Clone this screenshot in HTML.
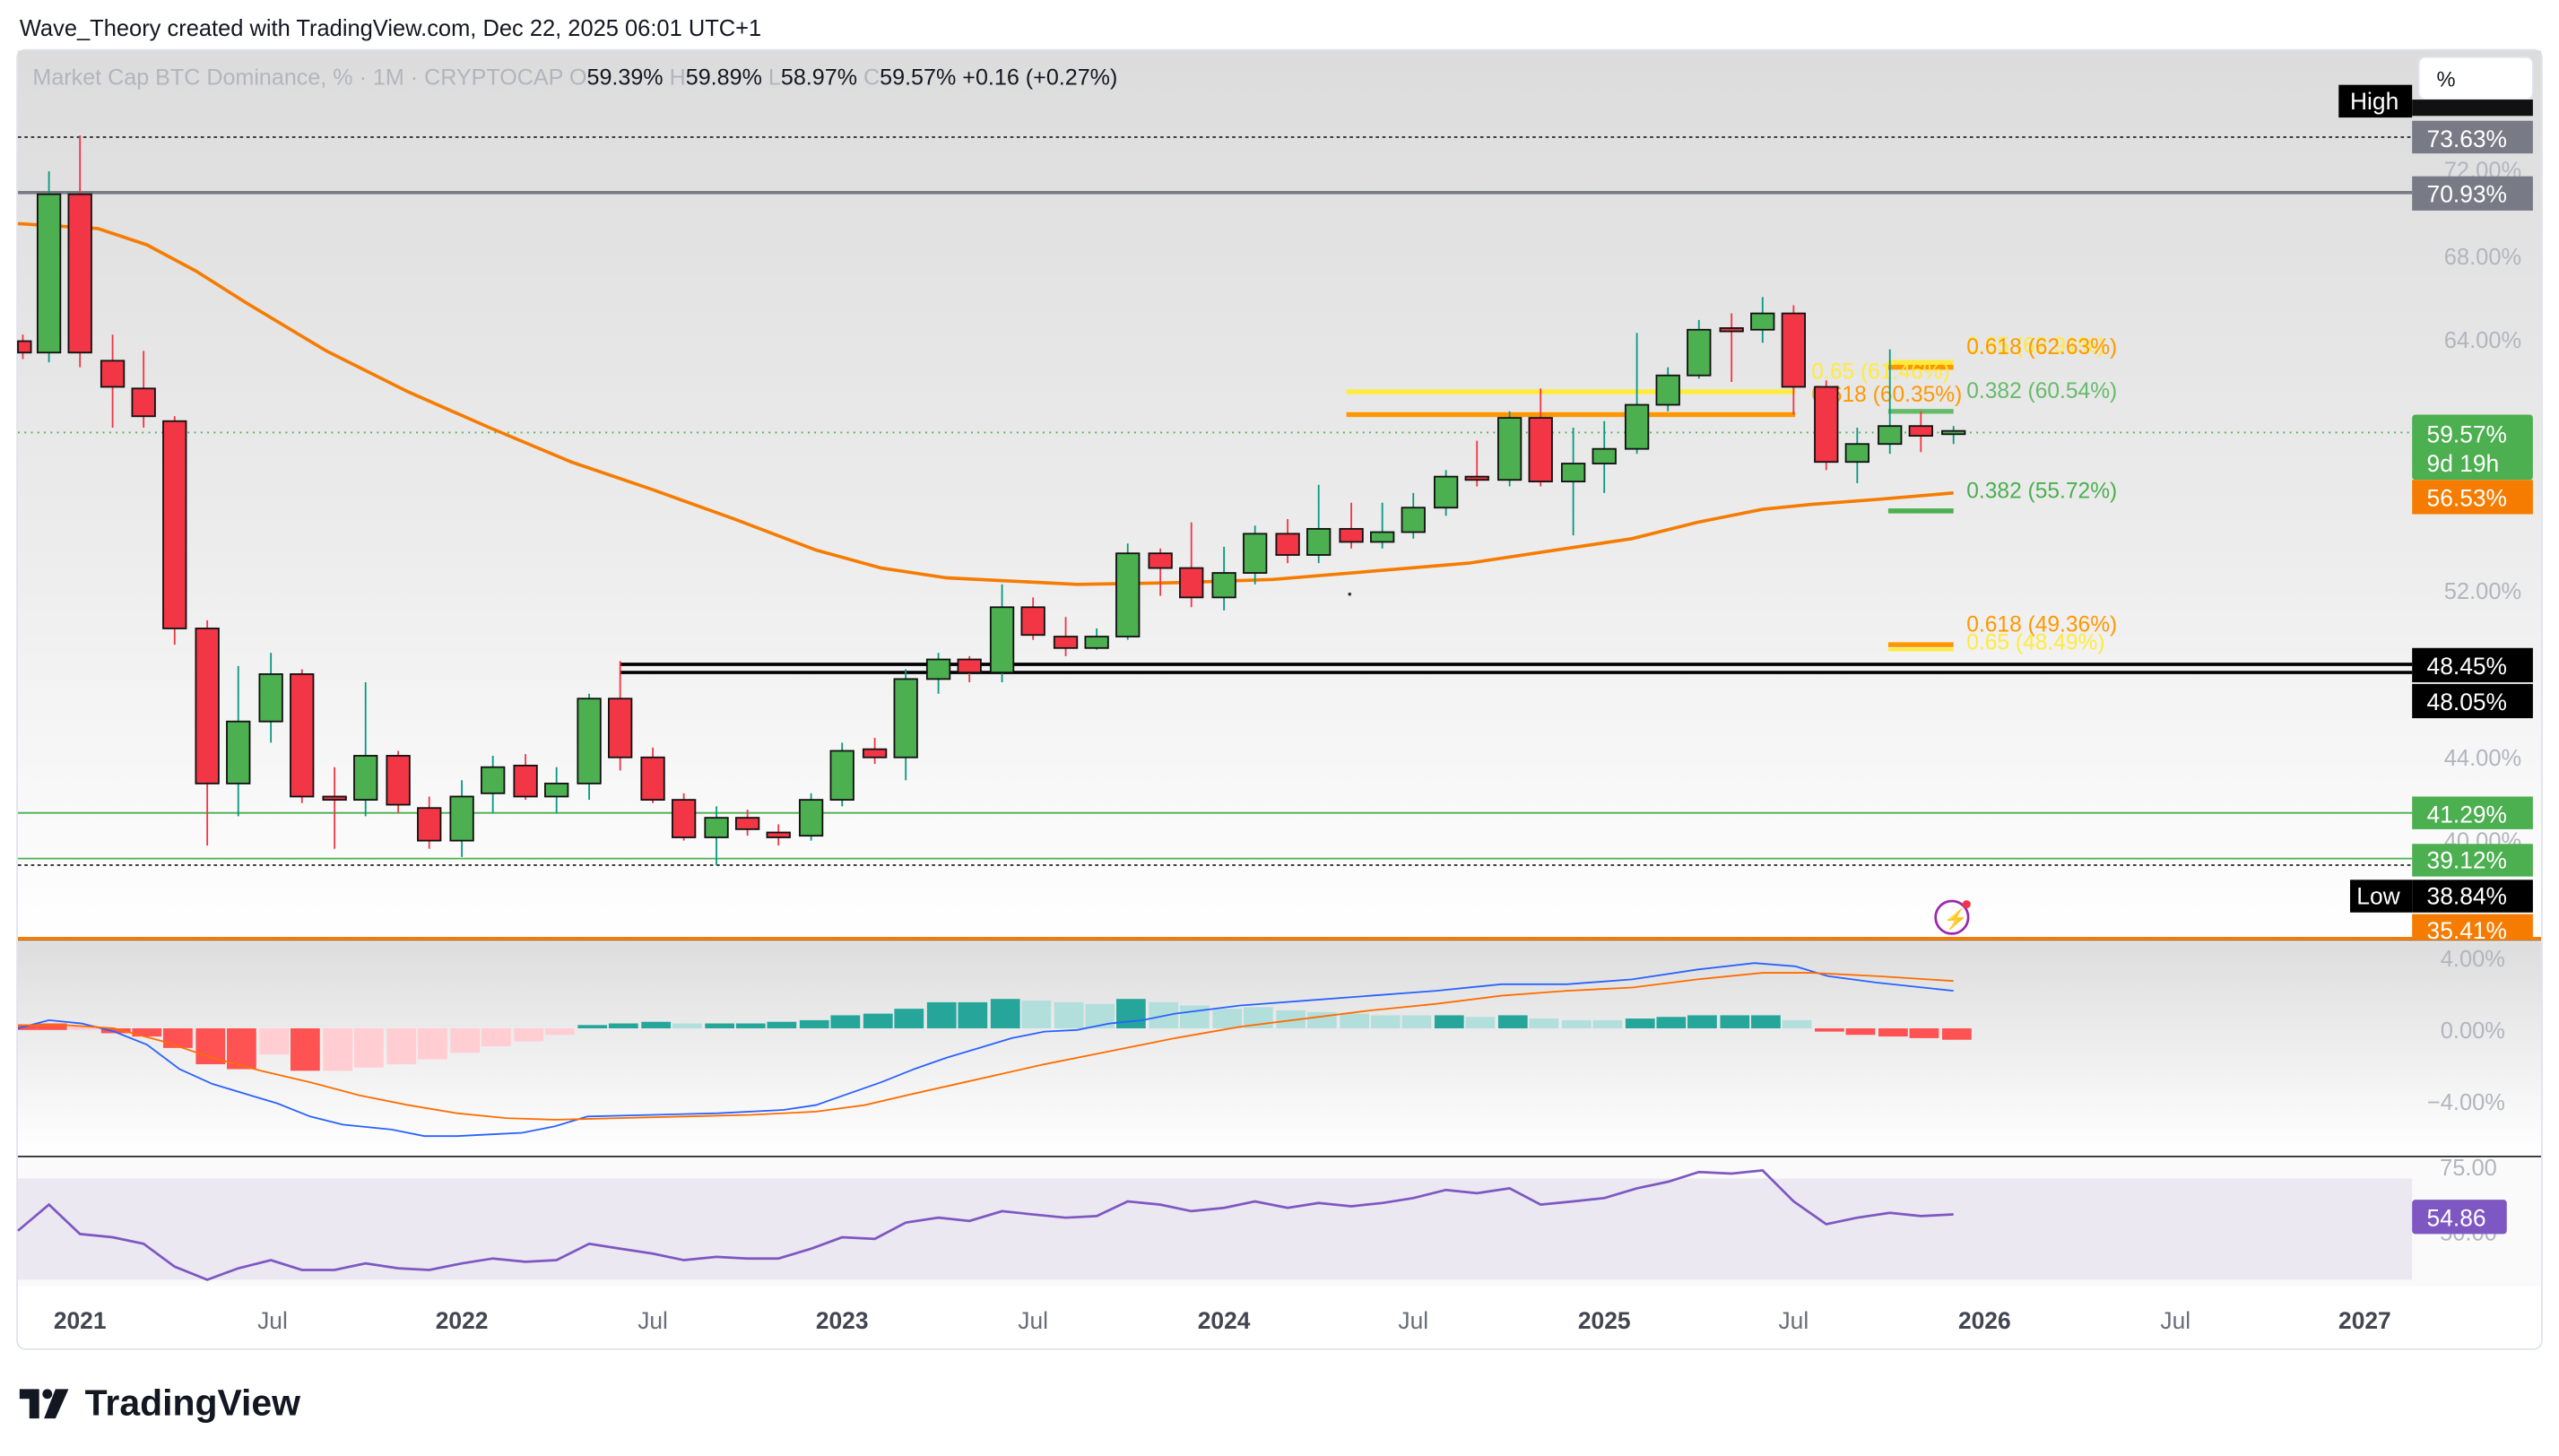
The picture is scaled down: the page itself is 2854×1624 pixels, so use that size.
<!DOCTYPE html>
<html><head><meta charset="utf-8"><style>
html,body{margin:0;padding:0;background:#fff;width:2854px;height:1624px;overflow:hidden}
svg{display:block}
text{font-family:"Liberation Sans",sans-serif}
</style></head><body>
<svg width="2854" height="1624" viewBox="0 0 1568 892" preserveAspectRatio="none" xmlns="http://www.w3.org/2000/svg">
<defs>
<linearGradient id="g1" x1="0" y1="0" x2="0" y2="1"><stop offset="0" stop-color="#dcdcdc"/><stop offset="0.55" stop-color="#ececec"/><stop offset="1" stop-color="#ffffff"/></linearGradient>
<linearGradient id="g2" x1="0" y1="0" x2="0" y2="1"><stop offset="0" stop-color="#dddddd"/><stop offset="1" stop-color="#ffffff"/></linearGradient>
</defs>
<rect width="1568" height="892" fill="#fff"/>
<text x="12" y="22" font-size="14" fill="#131722">Wave_Theory created with TradingView.com, Dec 22, 2025 06:01 UTC+1</text>
<rect x="10.5" y="30.5" width="1547" height="796" rx="5" fill="#fff" stroke="#e0e3eb"/>
<rect x="11" y="31" width="1546" height="545" fill="url(#g1)"/>
<rect x="11" y="577" width="1546" height="131" fill="url(#g2)"/>
<rect x="11" y="710" width="1546" height="78" fill="#fafafa"/>
<rect x="11" y="722" width="1467" height="62" fill="#ebe8f1"/>
<line x1="11" y1="708.5" x2="1557" y2="708.5" stroke="#333" stroke-width="1"/>
<line x1="11" y1="576" x2="1557" y2="576" stroke="#888" stroke-width="1"/>
<text x="20" y="52" font-size="13.8" fill="#b2b5be">Market Cap BTC Dominance, % · 1M · CRYPTOCAP  O<tspan fill="#131722">59.39%</tspan>  H<tspan fill="#131722">59.89%</tspan>  L<tspan fill="#131722">58.97%</tspan>  C<tspan fill="#131722">59.57%</tspan> <tspan fill="#131722"> +0.16 (+0.27%)</tspan></text>
<line x1="11" y1="84" x2="1478" y2="84" stroke="#333" stroke-dasharray="2,2"/>
<line x1="11" y1="118" x2="1478" y2="118" stroke="#787b86" stroke-width="2"/>
<line x1="380" y1="407" x2="1478" y2="407" stroke="#000" stroke-width="2"/>
<line x1="380" y1="412" x2="1478" y2="412" stroke="#000" stroke-width="2"/>
<line x1="11" y1="498" x2="1478" y2="498" stroke="#4caf50" stroke-width="1"/>
<line x1="11" y1="526" x2="1478" y2="526" stroke="#4caf50" stroke-width="1"/>
<line x1="11" y1="530" x2="1478" y2="530" stroke="#333" stroke-dasharray="2,2"/>
<line x1="11" y1="575" x2="1557" y2="575" stroke="#f57c00" stroke-width="2"/>
<line x1="11" y1="265" x2="1478" y2="265" stroke="#4caf50" stroke-dasharray="1,3"/>
<line x1="825" y1="240" x2="1100" y2="240" stroke="#ffeb3b" stroke-width="3"/>
<line x1="825" y1="254" x2="1100" y2="254" stroke="#ff9800" stroke-width="3"/>
<line x1="1157" y1="222" x2="1197" y2="222" stroke="#ffeb3b" stroke-width="3"/>
<line x1="1157" y1="225" x2="1197" y2="225" stroke="#ff9800" stroke-width="3"/>
<line x1="1157" y1="252" x2="1197" y2="252" stroke="#66bb6a" stroke-width="3"/>
<line x1="1157" y1="313" x2="1197" y2="313" stroke="#4caf50" stroke-width="3"/>
<line x1="1157" y1="395" x2="1197" y2="395" stroke="#ff9800" stroke-width="3"/>
<line x1="1157" y1="398" x2="1197" y2="398" stroke="#ffeb3b" stroke-width="2"/>
<g font-size="13.5">
<text x="1205" y="216" fill="#ffeb3b">0.65 (62.91%)</text>
<text x="1205" y="217" fill="#ff9800">0.618 (62.63%)</text>
<text x="1110" y="232" fill="#ffeb3b">0.65 (61.46%)</text>
<text x="1110" y="246" fill="#ff9800">0.618 (60.35%)</text>
<text x="1205" y="244" fill="#66bb6a">0.382 (60.54%)</text>
<text x="1205" y="305" fill="#4caf50">0.382 (55.72%)</text>
<text x="1205" y="387" fill="#ff9800">0.618 (49.36%)</text>
<text x="1205" y="398" fill="#ffeb3b">0.65 (48.49%)</text>
</g>
<polyline fill="none" stroke="#f57c00" stroke-width="2" points="11,137 60,140 90,150 120,166 150,185 200,215 250,240 300,262 350,283 400,300 450,318 500,337 540,348 580,354 620,356 660,358 720,357 780,355 840,350 900,345 960,336 1000,330 1040,320 1080,312 1110,309 1150,306 1197,302"/>
<g>
<line x1="14" y1="205" x2="14" y2="220" stroke="#f23645"/><rect x="11" y="209" width="8" height="7" fill="#f23645" stroke="#111"/>
<line x1="30" y1="105" x2="30" y2="222" stroke="#089981"/><rect x="23" y="119" width="14" height="97" fill="#4caf50" stroke="#111"/>
<line x1="49" y1="83" x2="49" y2="225" stroke="#f23645"/><rect x="42" y="119" width="14" height="97" fill="#f23645" stroke="#111"/>
<line x1="69" y1="205" x2="69" y2="262" stroke="#f23645"/><rect x="62" y="221" width="14" height="16" fill="#f23645" stroke="#111"/>
<line x1="88" y1="215" x2="88" y2="262" stroke="#f23645"/><rect x="81" y="238" width="14" height="17" fill="#f23645" stroke="#111"/>
<line x1="107" y1="255" x2="107" y2="395" stroke="#f23645"/><rect x="100" y="258" width="14" height="127" fill="#f23645" stroke="#111"/>
<line x1="127" y1="380" x2="127" y2="518" stroke="#f23645"/><rect x="120" y="385" width="14" height="95" fill="#f23645" stroke="#111"/>
<line x1="146" y1="408" x2="146" y2="500" stroke="#089981"/><rect x="139" y="442" width="14" height="38" fill="#4caf50" stroke="#111"/>
<line x1="166" y1="400" x2="166" y2="455" stroke="#089981"/><rect x="159" y="413" width="14" height="29" fill="#4caf50" stroke="#111"/>
<line x1="185" y1="410" x2="185" y2="492" stroke="#f23645"/><rect x="178" y="413" width="14" height="75" fill="#f23645" stroke="#111"/>
<line x1="205" y1="470" x2="205" y2="520" stroke="#f23645"/><rect x="198" y="488" width="14" height="2" fill="#f23645" stroke="#111"/>
<line x1="224" y1="418" x2="224" y2="500" stroke="#089981"/><rect x="217" y="463" width="14" height="27" fill="#4caf50" stroke="#111"/>
<line x1="244" y1="460" x2="244" y2="498" stroke="#f23645"/><rect x="237" y="463" width="14" height="30" fill="#f23645" stroke="#111"/>
<line x1="263" y1="488" x2="263" y2="520" stroke="#f23645"/><rect x="256" y="495" width="14" height="20" fill="#f23645" stroke="#111"/>
<line x1="283" y1="478" x2="283" y2="525" stroke="#089981"/><rect x="276" y="488" width="14" height="27" fill="#4caf50" stroke="#111"/>
<line x1="302" y1="463" x2="302" y2="498" stroke="#089981"/><rect x="295" y="470" width="14" height="16" fill="#4caf50" stroke="#111"/>
<line x1="322" y1="462" x2="322" y2="490" stroke="#f23645"/><rect x="315" y="469" width="14" height="19" fill="#f23645" stroke="#111"/>
<line x1="341" y1="470" x2="341" y2="498" stroke="#089981"/><rect x="334" y="480" width="14" height="8" fill="#4caf50" stroke="#111"/>
<line x1="361" y1="425" x2="361" y2="490" stroke="#089981"/><rect x="354" y="428" width="14" height="52" fill="#4caf50" stroke="#111"/>
<line x1="380" y1="405" x2="380" y2="472" stroke="#f23645"/><rect x="373" y="428" width="14" height="36" fill="#f23645" stroke="#111"/>
<line x1="400" y1="458" x2="400" y2="492" stroke="#f23645"/><rect x="393" y="464" width="14" height="26" fill="#f23645" stroke="#111"/>
<line x1="419" y1="486" x2="419" y2="515" stroke="#f23645"/><rect x="412" y="490" width="14" height="23" fill="#f23645" stroke="#111"/>
<line x1="439" y1="494" x2="439" y2="530" stroke="#089981"/><rect x="432" y="501" width="14" height="12" fill="#4caf50" stroke="#111"/>
<line x1="458" y1="496" x2="458" y2="512" stroke="#f23645"/><rect x="451" y="501" width="14" height="7" fill="#f23645" stroke="#111"/>
<line x1="477" y1="505" x2="477" y2="518" stroke="#f23645"/><rect x="470" y="510" width="14" height="3" fill="#f23645" stroke="#111"/>
<line x1="497" y1="486" x2="497" y2="515" stroke="#089981"/><rect x="490" y="490" width="14" height="22" fill="#4caf50" stroke="#111"/>
<line x1="516" y1="455" x2="516" y2="494" stroke="#089981"/><rect x="509" y="460" width="14" height="30" fill="#4caf50" stroke="#111"/>
<line x1="536" y1="452" x2="536" y2="468" stroke="#f23645"/><rect x="529" y="459" width="14" height="5" fill="#f23645" stroke="#111"/>
<line x1="555" y1="410" x2="555" y2="478" stroke="#089981"/><rect x="548" y="416" width="14" height="48" fill="#4caf50" stroke="#111"/>
<line x1="575" y1="400" x2="575" y2="425" stroke="#089981"/><rect x="568" y="404" width="14" height="12" fill="#4caf50" stroke="#111"/>
<line x1="594" y1="402" x2="594" y2="418" stroke="#f23645"/><rect x="587" y="404" width="14" height="8" fill="#f23645" stroke="#111"/>
<line x1="614" y1="358" x2="614" y2="418" stroke="#089981"/><rect x="607" y="372" width="14" height="40" fill="#4caf50" stroke="#111"/>
<line x1="633" y1="366" x2="633" y2="392" stroke="#f23645"/><rect x="626" y="372" width="14" height="17" fill="#f23645" stroke="#111"/>
<line x1="653" y1="378" x2="653" y2="402" stroke="#f23645"/><rect x="646" y="390" width="14" height="7" fill="#f23645" stroke="#111"/>
<line x1="672" y1="385" x2="672" y2="398" stroke="#089981"/><rect x="665" y="390" width="14" height="7" fill="#4caf50" stroke="#111"/>
<line x1="691" y1="333" x2="691" y2="392" stroke="#089981"/><rect x="684" y="339" width="14" height="51" fill="#4caf50" stroke="#111"/>
<line x1="711" y1="336" x2="711" y2="365" stroke="#f23645"/><rect x="704" y="339" width="14" height="9" fill="#f23645" stroke="#111"/>
<line x1="730" y1="320" x2="730" y2="372" stroke="#f23645"/><rect x="723" y="348" width="14" height="18" fill="#f23645" stroke="#111"/>
<line x1="750" y1="335" x2="750" y2="374" stroke="#089981"/><rect x="743" y="351" width="14" height="15" fill="#4caf50" stroke="#111"/>
<line x1="769" y1="322" x2="769" y2="358" stroke="#089981"/><rect x="762" y="327" width="14" height="24" fill="#4caf50" stroke="#111"/>
<line x1="789" y1="318" x2="789" y2="345" stroke="#f23645"/><rect x="782" y="327" width="14" height="13" fill="#f23645" stroke="#111"/>
<line x1="808" y1="297" x2="808" y2="345" stroke="#089981"/><rect x="801" y="324" width="14" height="16" fill="#4caf50" stroke="#111"/>
<line x1="828" y1="308" x2="828" y2="336" stroke="#f23645"/><rect x="821" y="324" width="14" height="8" fill="#f23645" stroke="#111"/>
<line x1="847" y1="308" x2="847" y2="336" stroke="#089981"/><rect x="840" y="326" width="14" height="6" fill="#4caf50" stroke="#111"/>
<line x1="866" y1="302" x2="866" y2="330" stroke="#089981"/><rect x="859" y="311" width="14" height="15" fill="#4caf50" stroke="#111"/>
<line x1="886" y1="288" x2="886" y2="316" stroke="#089981"/><rect x="879" y="292" width="14" height="19" fill="#4caf50" stroke="#111"/>
<line x1="905" y1="270" x2="905" y2="298" stroke="#f23645"/><rect x="898" y="292" width="14" height="2" fill="#f23645" stroke="#111"/>
<line x1="925" y1="252" x2="925" y2="298" stroke="#089981"/><rect x="918" y="256" width="14" height="38" fill="#4caf50" stroke="#111"/>
<line x1="944" y1="238" x2="944" y2="298" stroke="#f23645"/><rect x="937" y="256" width="14" height="39" fill="#f23645" stroke="#111"/>
<line x1="964" y1="262" x2="964" y2="328" stroke="#089981"/><rect x="957" y="284" width="14" height="11" fill="#4caf50" stroke="#111"/>
<line x1="983" y1="258" x2="983" y2="302" stroke="#089981"/><rect x="976" y="275" width="14" height="9" fill="#4caf50" stroke="#111"/>
<line x1="1003" y1="204" x2="1003" y2="278" stroke="#089981"/><rect x="996" y="248" width="14" height="27" fill="#4caf50" stroke="#111"/>
<line x1="1022" y1="225" x2="1022" y2="252" stroke="#089981"/><rect x="1015" y="230" width="14" height="18" fill="#4caf50" stroke="#111"/>
<line x1="1041" y1="196" x2="1041" y2="232" stroke="#089981"/><rect x="1034" y="202" width="14" height="28" fill="#4caf50" stroke="#111"/>
<line x1="1061" y1="192" x2="1061" y2="234" stroke="#f23645"/><rect x="1054" y="201" width="14" height="2" fill="#f23645" stroke="#111"/>
<line x1="1080" y1="182" x2="1080" y2="210" stroke="#089981"/><rect x="1073" y="192" width="14" height="10" fill="#4caf50" stroke="#111"/>
<line x1="1099" y1="187" x2="1099" y2="254" stroke="#f23645"/><rect x="1092" y="192" width="14" height="45" fill="#f23645" stroke="#111"/>
<line x1="1119" y1="233" x2="1119" y2="288" stroke="#f23645"/><rect x="1112" y="237" width="14" height="46" fill="#f23645" stroke="#111"/>
<line x1="1138" y1="262" x2="1138" y2="296" stroke="#089981"/><rect x="1131" y="272" width="14" height="11" fill="#4caf50" stroke="#111"/>
<line x1="1158" y1="214" x2="1158" y2="278" stroke="#089981"/><rect x="1151" y="261" width="14" height="11" fill="#4caf50" stroke="#111"/>
<line x1="1177" y1="252" x2="1177" y2="277" stroke="#f23645"/><rect x="1170" y="261" width="14" height="6" fill="#f23645" stroke="#111"/>
<line x1="1197" y1="261" x2="1197" y2="272" stroke="#089981"/><rect x="1190" y="264" width="14" height="2" fill="#4caf50" stroke="#111"/>
</g>
<circle cx="827" cy="364" r="1" fill="#333"/>
<g font-size="14" fill="#b2b5be" text-anchor="end">
<text x="1545" y="109">72.00%</text>
<text x="1545" y="162">68.00%</text>
<text x="1545" y="213">64.00%</text>
<text x="1545" y="367">52.00%</text>
<text x="1545" y="469">44.00%</text>
<text x="1545" y="520">40.00%</text>
</g>
<rect x="1482" y="35" width="70" height="26" rx="4" fill="#fff" stroke="#e0e3eb"/>
<text x="1493" y="53" font-size="13" fill="#131722">%</text>
<g font-size="14.5" fill="#fff">
<rect x="1433" y="52" width="45" height="20" fill="#000"/><text x="1440" y="67">High</text>
<rect x="1478" y="61" width="74" height="10" fill="#111"/>
<rect x="1478" y="74" width="74" height="20" fill="#787b86"/><text x="1487" y="90">73.63%</text>
<rect x="1478" y="108" width="74" height="21" fill="#787b86"/><text x="1487" y="124">70.93%</text>
<rect x="1478" y="254" width="74" height="40" rx="2" fill="#4caf50"/><text x="1487" y="271">59.57%</text><text x="1487" y="289">9d 19h</text>
<rect x="1478" y="294" width="74" height="21" fill="#f57c00"/><text x="1487" y="310">56.53%</text>
<rect x="1478" y="397" width="74" height="21" fill="#000"/><text x="1487" y="413">48.45%</text>
<rect x="1478" y="419" width="74" height="21" fill="#000"/><text x="1487" y="435">48.05%</text>
<rect x="1478" y="488" width="74" height="20" fill="#4caf50"/><text x="1487" y="504">41.29%</text>
<rect x="1478" y="517" width="74" height="20" fill="#4caf50"/><text x="1487" y="532">39.12%</text>
<rect x="1440" y="539" width="38" height="20" fill="#000"/><text x="1444" y="554">Low</text>
<rect x="1478" y="539" width="74" height="20" fill="#000"/><text x="1487" y="554">38.84%</text>
<rect x="1478" y="560" width="74" height="16" fill="#f57c00"/><text x="1487" y="575">35.41%</text>
</g>
<circle cx="1196" cy="562" r="10" fill="none" stroke="#9c27b0" stroke-width="1.5"/>
<text x="1191" y="567" font-size="12" fill="#9c27b0">⚡</text>
<circle cx="1205" cy="554" r="2.5" fill="#f23645"/>
<g font-size="14" fill="#b2b5be" text-anchor="end">
<text x="1535" y="592">4.00%</text><text x="1535" y="636">0.00%</text><text x="1535" y="680">−4.00%</text>
</g>
<g>
<rect x="11" y="628" width="12" height="3" fill="#ff5252"/>
<rect x="23" y="627" width="18" height="4" fill="#ff5252"/>
<rect x="42" y="628" width="18" height="3" fill="#ffcdd2"/>
<rect x="62" y="630" width="18" height="3" fill="#ff5252"/>
<rect x="81" y="630" width="18" height="5" fill="#ff5252"/>
<rect x="100" y="630" width="18" height="12" fill="#ff5252"/>
<rect x="120" y="630" width="18" height="22" fill="#ff5252"/>
<rect x="139" y="630" width="18" height="25" fill="#ff5252"/>
<rect x="159" y="630" width="18" height="16" fill="#ffcdd2"/>
<rect x="178" y="630" width="18" height="26" fill="#ff5252"/>
<rect x="198" y="630" width="18" height="26" fill="#ffcdd2"/>
<rect x="217" y="630" width="18" height="24" fill="#ffcdd2"/>
<rect x="237" y="630" width="18" height="22" fill="#ffcdd2"/>
<rect x="256" y="630" width="18" height="19" fill="#ffcdd2"/>
<rect x="276" y="630" width="18" height="15" fill="#ffcdd2"/>
<rect x="295" y="630" width="18" height="11" fill="#ffcdd2"/>
<rect x="315" y="630" width="18" height="8" fill="#ffcdd2"/>
<rect x="334" y="630" width="18" height="4" fill="#ffcdd2"/>
<rect x="354" y="628" width="18" height="2" fill="#26a69a"/>
<rect x="373" y="627" width="18" height="3" fill="#26a69a"/>
<rect x="393" y="626" width="18" height="4" fill="#26a69a"/>
<rect x="412" y="627" width="18" height="3" fill="#b2dfdb"/>
<rect x="432" y="627" width="18" height="3" fill="#26a69a"/>
<rect x="451" y="627" width="18" height="3" fill="#26a69a"/>
<rect x="470" y="626" width="18" height="4" fill="#26a69a"/>
<rect x="490" y="625" width="18" height="5" fill="#26a69a"/>
<rect x="509" y="622" width="18" height="8" fill="#26a69a"/>
<rect x="529" y="621" width="18" height="9" fill="#26a69a"/>
<rect x="548" y="618" width="18" height="12" fill="#26a69a"/>
<rect x="568" y="614" width="18" height="16" fill="#26a69a"/>
<rect x="587" y="614" width="18" height="16" fill="#26a69a"/>
<rect x="607" y="612" width="18" height="18" fill="#26a69a"/>
<rect x="626" y="613" width="18" height="17" fill="#b2dfdb"/>
<rect x="646" y="614" width="18" height="16" fill="#b2dfdb"/>
<rect x="665" y="615" width="18" height="15" fill="#b2dfdb"/>
<rect x="684" y="612" width="18" height="18" fill="#26a69a"/>
<rect x="704" y="614" width="18" height="16" fill="#b2dfdb"/>
<rect x="723" y="616" width="18" height="14" fill="#b2dfdb"/>
<rect x="743" y="618" width="18" height="12" fill="#b2dfdb"/>
<rect x="762" y="617" width="18" height="13" fill="#b2dfdb"/>
<rect x="782" y="619" width="18" height="11" fill="#b2dfdb"/>
<rect x="801" y="620" width="18" height="10" fill="#b2dfdb"/>
<rect x="821" y="621" width="18" height="9" fill="#b2dfdb"/>
<rect x="840" y="622" width="18" height="8" fill="#b2dfdb"/>
<rect x="859" y="622" width="18" height="8" fill="#b2dfdb"/>
<rect x="879" y="622" width="18" height="8" fill="#26a69a"/>
<rect x="898" y="623" width="18" height="7" fill="#b2dfdb"/>
<rect x="918" y="622" width="18" height="8" fill="#26a69a"/>
<rect x="937" y="624" width="18" height="6" fill="#b2dfdb"/>
<rect x="957" y="625" width="18" height="5" fill="#b2dfdb"/>
<rect x="976" y="625" width="18" height="5" fill="#b2dfdb"/>
<rect x="996" y="624" width="18" height="6" fill="#26a69a"/>
<rect x="1015" y="623" width="18" height="7" fill="#26a69a"/>
<rect x="1034" y="622" width="18" height="8" fill="#26a69a"/>
<rect x="1054" y="622" width="18" height="8" fill="#26a69a"/>
<rect x="1073" y="622" width="18" height="8" fill="#26a69a"/>
<rect x="1092" y="625" width="18" height="5" fill="#b2dfdb"/>
<rect x="1112" y="630" width="18" height="2" fill="#ff5252"/>
<rect x="1131" y="630" width="18" height="4" fill="#ff5252"/>
<rect x="1151" y="630" width="18" height="5" fill="#ff5252"/>
<rect x="1170" y="630" width="18" height="6" fill="#ff5252"/>
<rect x="1190" y="630" width="18" height="7" fill="#ff5252"/>
</g>
<polyline fill="none" stroke="#2962ff" stroke-width="1" points="11,630 30,625 50,627 70,632 90,640 110,655 130,664 150,670 170,676 190,684 210,689 240,692 260,696 280,696 300,695 320,694 340,690 360,684 400,683 440,682 480,680 500,677 520,670 540,663 560,655 580,648 600,642 620,636 640,632 660,631 680,627 700,625 720,621 760,616 800,613 840,610 880,607 920,603 960,603 1000,600 1040,594 1075,590 1100,592 1120,598 1150,602 1197,607"/>
<polyline fill="none" stroke="#ff6d00" stroke-width="1" points="11,628 40,628 70,630 100,638 130,648 160,656 190,663 220,671 250,677 280,682 310,685 340,686 380,685 420,684 460,683 500,681 530,677 560,670 600,661 640,652 680,644 720,636 760,629 800,624 840,619 880,615 920,610 960,607 1000,605 1040,600 1080,596 1110,596 1150,598 1197,601"/>
<g font-size="14" fill="#b2b5be" text-anchor="end"><text x="1530" y="720">75.00</text><text x="1530" y="760">50.00</text></g>
<polyline fill="none" stroke="#7e57c2" stroke-width="1.5" points="11,754 30,738 49,756 69,758 88,762 107,776 127,784 146,777 166,772 185,778 205,778 224,774 244,777 263,778 283,774 302,771 322,773 341,772 361,762 380,765 400,768 419,772 439,770 458,771 477,771 497,765 516,758 536,759 555,749 575,746 594,748 614,742 633,744 653,746 672,745 691,736 711,738 730,742 750,740 769,736 789,740 808,737 828,739 847,737 866,734 886,729 905,731 925,728 944,738 964,736 983,734 1003,728 1022,724 1041,718 1061,719 1080,717 1099,736 1119,750 1138,746 1158,743 1177,745 1197,744"/>
<rect x="1478" y="735" width="58" height="21" rx="2" fill="#7e57c2"/><text x="1487" y="751" font-size="14.5" fill="#fff">54.86</text>
<g font-size="14.5" fill="#6a6d78" text-anchor="middle">
<text x="49" y="814" font-weight="bold" fill="#434651">2021</text>
<text x="167" y="814">Jul</text>
<text x="283" y="814" font-weight="bold" fill="#434651">2022</text>
<text x="400" y="814">Jul</text>
<text x="516" y="814" font-weight="bold" fill="#434651">2023</text>
<text x="633" y="814">Jul</text>
<text x="750" y="814" font-weight="bold" fill="#434651">2024</text>
<text x="866" y="814">Jul</text>
<text x="983" y="814" font-weight="bold" fill="#434651">2025</text>
<text x="1099" y="814">Jul</text>
<text x="1216" y="814" font-weight="bold" fill="#434651">2026</text>
<text x="1333" y="814">Jul</text>
<text x="1449" y="814" font-weight="bold" fill="#434651">2027</text>
</g>
<g fill="#131722">
<path d="M12 851 h12 v18 h-6 v-12 h-6z"/><circle cx="29" cy="854" r="3"/><path d="M34 851 h8 l-8 18 h-7z"/>
</g>
<text x="52" y="867" font-size="22.5" font-weight="bold" fill="#131722">TradingView</text>
</svg>
</body></html>
